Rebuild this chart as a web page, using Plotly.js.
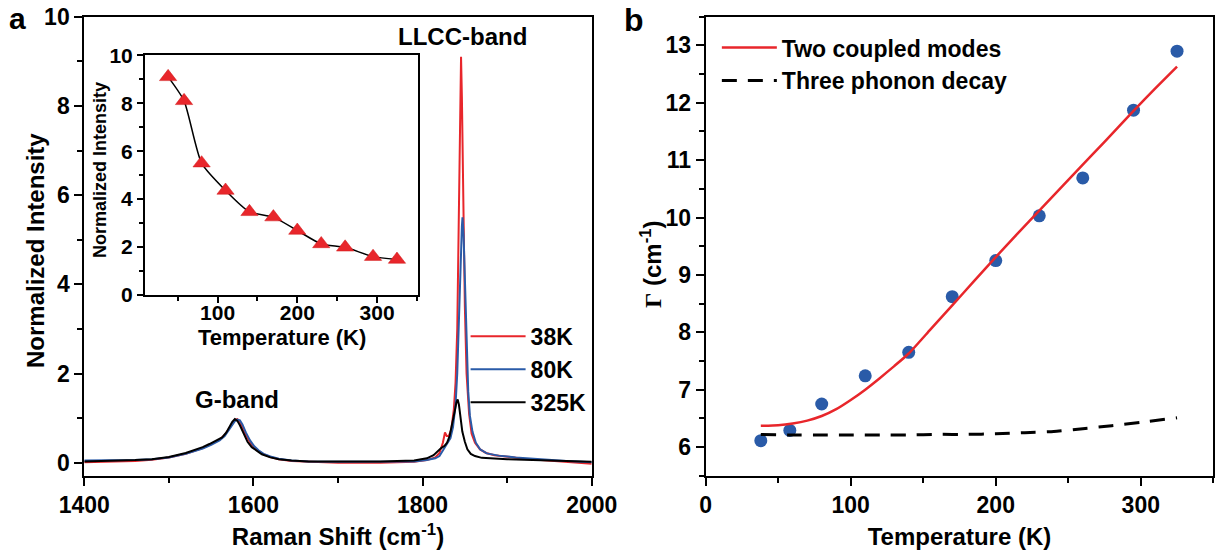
<!DOCTYPE html>
<html><head><meta charset="utf-8">
<script src="https://cdn.plot.ly/plotly-3.0.1.min.js"></script>
<style>html,body{margin:0;padding:0;background:#fff}#chart{width:1215px;height:550px}</style>
</head><body><div id="chart"></div>
<script>
// ---- Panel a: Raman spectra ----
const shift38 = [1400,1430,1460,1480,1500,1520,1540,1550,1560,1566,1571,1575,1578,1581,1584,1587,1591,1596,1601,1606,1612,1620,1630,1645,1665,1700,1750,1790,1805,1815,1820,1824,1826.5,1828.5,1831,1834,1837,1839,1841,1843,1844.5,1845.5,1846.5,1848,1850,1852,1855,1858,1862,1868,1875,1885,1900,1920,1940,1960,1980,2000];
const int38   = [0.01,0.02,0.04,0.07,0.12,0.2,0.33,0.42,0.52,0.62,0.76,0.88,0.96,0.98,0.92,0.8,0.62,0.46,0.34,0.26,0.19,0.13,0.08,0.04,0.02,0.0,0.0,0.02,0.06,0.12,0.22,0.45,0.68,0.6,0.6,0.75,1.2,1.8,3.0,5.4,8.0,9.1,8.2,6.0,3.5,2.0,1.1,0.65,0.45,0.3,0.22,0.17,0.13,0.09,0.06,0.03,0.0,-0.02];
const shift80 = [1400,1430,1460,1480,1500,1520,1540,1550,1560,1566,1571,1575,1578,1581,1584,1587,1591,1596,1601,1606,1612,1620,1630,1645,1665,1700,1750,1790,1805,1815,1820,1825,1829,1833,1836,1839,1841,1843,1845,1846.5,1847.2,1848.5,1850,1852,1854,1856,1859,1863,1868,1876,1890,1910,1930,1950,1970,2000];
const int80   = [0.05,0.05,0.06,0.08,0.12,0.2,0.32,0.4,0.5,0.6,0.73,0.85,0.93,0.97,0.95,0.86,0.68,0.5,0.37,0.28,0.2,0.14,0.09,0.05,0.03,0.02,0.02,0.03,0.06,0.1,0.15,0.3,0.45,0.55,0.8,1.3,2.0,3.0,4.4,5.3,5.5,5.1,4.0,2.6,1.6,1.05,0.7,0.45,0.3,0.21,0.16,0.12,0.09,0.06,0.04,0.01];
const shift325 = [1400,1430,1460,1480,1500,1520,1540,1548,1556,1563,1568,1572,1575,1578,1581,1584,1588,1593,1598,1604,1610,1620,1630,1645,1665,1700,1750,1790,1805,1813,1818,1822,1826,1829,1832,1835,1838,1840,1841.5,1843,1845,1847,1850,1853,1857,1862,1870,1885,1900,1930,1960,2000];
const int325   = [0.03,0.04,0.06,0.08,0.13,0.22,0.35,0.42,0.5,0.57,0.68,0.82,0.92,0.98,0.94,0.84,0.66,0.47,0.35,0.26,0.19,0.12,0.08,0.05,0.03,0.03,0.03,0.05,0.1,0.17,0.27,0.33,0.38,0.45,0.6,0.85,1.15,1.35,1.42,1.3,1.0,0.7,0.47,0.3,0.2,0.15,0.11,0.09,0.08,0.06,0.04,0.02];
const spectraNames = ['38K','80K','325K'];

// ---- Inset: LLCC intensity vs temperature ----
const insetT = [38,58,80,110,140,170,200,230,260,295,325];
const insetI = [9.1,8.1,5.5,4.36,3.47,3.25,2.69,2.13,1.99,1.6,1.48];

// ---- Panel b: linewidth vs temperature ----
const gammaT = [38,58,80,110,140,170,200,230,260,295,325];
const gammaW = [6.11,6.29,6.75,7.24,7.65,8.62,9.25,10.03,10.69,11.87,12.9];
const coupledT = [38,50,60,70,80,90,100,110,120,130,140,155,170,185,200,215,230,245,260,275,295,310,325];
const coupledW = [6.37,6.38,6.41,6.46,6.54,6.66,6.82,7.0,7.2,7.41,7.63,8.05,8.47,8.89,9.31,9.72,10.12,10.52,10.92,11.32,11.86,12.25,12.63];
const decayT = [38,60,80,100,120,140,160,180,200,220,240,260,280,300,325];
const decayW = [6.22,6.21,6.21,6.21,6.21,6.21,6.22,6.22,6.23,6.25,6.27,6.32,6.37,6.43,6.51];

// ---- Tick labels ----
const ramanTicks = [1400,1600,1800,2000];
const intensityTicks = [0,2,4,6,8,10];
const insetTempTicks = [100,200,300];
const insetIntTicks = [0,2,4,6,8,10];
const tempTicks = [0,100,200,300];
const gammaTicks = [6,7,8,9,10,11,12,13];
const boldText = (arr) => arr.map(v => '<b>' + v + '</b>');

const RED = '#e8262b', BLUE = '#2a5ba8', BLACK = '#000000';
const FAM = '"Liberation Sans", Arial, sans-serif';
const bf = (s) => ({family: FAM, size: s, color: '#000', weight: 700});
const W = 1215, H = 550;
const px = (v) => v / W, py = (v) => 1 - v / H;

const traces = [
  {x: shift38, y: int38, name: spectraNames[0], mode: 'lines', line: {color: RED, width: 2}, xaxis: 'x', yaxis: 'y', legend: 'legend'},
  {x: shift80, y: int80, name: spectraNames[1], mode: 'lines', line: {color: BLUE, width: 2}, xaxis: 'x', yaxis: 'y', legend: 'legend'},
  {x: shift325, y: int325, name: spectraNames[2], mode: 'lines', line: {color: BLACK, width: 2}, xaxis: 'x', yaxis: 'y', legend: 'legend'},
  {x: insetT, y: insetI, mode: 'lines+markers', showlegend: false, xaxis: 'x2', yaxis: 'y2',
   line: {color: BLACK, width: 1.5, shape: 'spline', smoothing: 0.6},
   marker: {symbol: 'triangle-up', size: 15, color: RED, line: {color: '#d01818', width: 0.5}}},
  {x: gammaT, y: gammaW, mode: 'markers', showlegend: false, xaxis: 'x4', yaxis: 'y4',
   marker: {symbol: 'circle', size: 13, color: BLUE}},
  {x: coupledT, y: coupledW, name: 'Two coupled modes', mode: 'lines', xaxis: 'x4', yaxis: 'y4', legend: 'legend2',
   line: {color: RED, width: 2.5, shape: 'spline', smoothing: 0.5}},
  {x: decayT, y: decayW, name: 'Three phonon decay', mode: 'lines', xaxis: 'x4', yaxis: 'y4', legend: 'legend2',
   line: {color: BLACK, width: 3, dash: '15px,11px', shape: 'spline', smoothing: 0.5}}
];

const baseAx = {showgrid: false, zeroline: false, showline: true, linecolor: '#000', linewidth: 2,
  ticks: 'outside', tickwidth: 2, ticklen: 8, tickcolor: '#000', tickmode: 'array'};

const domA = [0.06938, 0.48700], domB = [0.58082, 0.99860], domY = [0.13509, 0.96964];
const domIX = [0.11934, 0.34379], domIY = [0.46364, 0.89945];

const layout = {
  width: W, height: H,
  margin: {l: 0, r: 0, t: 0, b: 0},
  paper_bgcolor: '#fff', plot_bgcolor: '#fff',
  font: bf(22),
  xaxis: Object.assign({}, baseAx, {domain: domA, anchor: 'y', range: [1400, 2000], mirror: true,
    tickvals: ramanTicks, ticktext: boldText(ramanTicks),
    minor: {tickmode: 'linear', tick0: 1400, dtick: 100, ticks: 'outside', ticklen: 5, tickwidth: 2, tickcolor: '#000'},
    tickfont: bf(23), title: {text: 'Raman Shift (cm<sup>-1</sup>)', font: bf(24), standoff: 12}}),
  yaxis: Object.assign({}, baseAx, {domain: domY, anchor: 'x', range: [-0.29, 10], mirror: true,
    tickvals: intensityTicks, ticktext: boldText(intensityTicks),
    minor: {tickmode: 'linear', tick0: 0, dtick: 1, ticks: 'outside', ticklen: 5, tickwidth: 2, tickcolor: '#000'},
    tickfont: bf(23)}),
  xaxis2: Object.assign({}, baseAx, {domain: domIX, anchor: 'y2', range: [9, 351], mirror: true,
    tickvals: insetTempTicks, ticktext: boldText(insetTempTicks), ticklabelstandoff: -8,
    minor: {tickmode: 'linear', tick0: 0, dtick: 50, ticks: 'outside', ticklen: 4, tickwidth: 2, tickcolor: '#000'}, ticklen: 6,
    tickfont: bf(21)}),
  yaxis2: Object.assign({}, baseAx, {domain: domIY, anchor: 'x2', range: [0, 10], mirror: true,
    tickvals: insetIntTicks, ticktext: boldText(insetIntTicks),
    minor: {tickmode: 'linear', tick0: 0, dtick: 1, ticks: 'outside', ticklen: 4, tickwidth: 2, tickcolor: '#000'}, ticklen: 6,
    tickfont: bf(21)}),
  xaxis3: {overlaying: 'x2', anchor: 'y2', side: 'top', range: [9, 351], tick0: 0, dtick: 50, ticks: 'inside', ticklen: 4, tickwidth: 2,
    showticklabels: false, showline: false, showgrid: false, zeroline: false},
  yaxis3: {overlaying: 'y2', anchor: 'x2', side: 'right', range: [0, 10], tick0: 0, dtick: 1, ticks: 'inside', ticklen: 4, tickwidth: 2,
    showticklabels: false, showline: false, showgrid: false, zeroline: false},
  xaxis4: Object.assign({}, baseAx, {domain: domB, anchor: 'y4', range: [0, 350], mirror: true,
    tickvals: tempTicks, ticktext: boldText(tempTicks),
    minor: {tickmode: 'linear', tick0: 0, dtick: 50, ticks: 'outside', ticklen: 5, tickwidth: 2, tickcolor: '#000'},
    tickfont: bf(23), title: {text: 'Temperature (K)', font: bf(24), standoff: 12}}),
  yaxis4: Object.assign({}, baseAx, {domain: domY, anchor: 'x4', range: [5.5, 13.5], mirror: true,
    tickvals: gammaTicks, ticktext: boldText(gammaTicks),
    minor: {tickmode: 'linear', tick0: 0, dtick: 0.5, ticks: 'outside', ticklen: 5, tickwidth: 2, tickcolor: '#000'},
    tickfont: bf(23)}),
  xaxis5: {overlaying: 'x4', anchor: 'y4', side: 'top', range: [0, 350], tick0: 0, dtick: 100, ticks: 'inside', ticklen: 7, tickwidth: 2,
    minor: {dtick: 50, ticks: 'inside', ticklen: 4, tickwidth: 2},
    showticklabels: false, showline: false, showgrid: false, zeroline: false},
  yaxis5: {overlaying: 'y4', anchor: 'x4', side: 'right', range: [5.5, 13.5], tick0: 0, dtick: 1, ticks: 'inside', ticklen: 7, tickwidth: 2,
    minor: {dtick: 0.5, ticks: 'inside', ticklen: 7, tickwidth: 2},
    showticklabels: false, showline: false, showgrid: false, zeroline: false},
  legend: {x: 0.3832, y: 0.4275, xanchor: 'left', yanchor: 'top', bgcolor: 'rgba(0,0,0,0)', font: bf(23),
    itemwidth: 55, tracegroupgap: 0},
  legend2: {x: 0.59, y: 0.9525, xanchor: 'left', yanchor: 'top', bgcolor: 'rgba(0,0,0,0)', font: bf(23),
    itemwidth: 55, tracegroupgap: 0},
  annotations: [
    {text: 'a', xref: 'paper', yref: 'paper', x: px(17.5), y: 1, xanchor: 'center', yanchor: 'top', showarrow: false, font: bf(30)},
    {text: 'b', xref: 'paper', yref: 'paper', x: px(634), y: 1, xanchor: 'center', yanchor: 'top', showarrow: false, font: bf(32)},
    {text: 'LLCC-band', xref: 'x', yref: 'y', x: 1847, y: 9.55, xanchor: 'center', yanchor: 'middle', showarrow: false, font: bf(24)},
    {text: 'G-band', xref: 'x', yref: 'y', x: 1581, y: 1.41, xanchor: 'center', yanchor: 'middle', showarrow: false, font: bf(24)},
    // axis titles placed to match the reference
    {text: 'Normalized Intensity', xref: 'paper', yref: 'paper', x: px(36), y: py(251), textangle: -90,
     xanchor: 'center', yanchor: 'middle', showarrow: false, font: bf(24)},
    {text: 'Normalized Intensity', xref: 'paper', yref: 'paper', x: px(100), y: py(170), textangle: -90,
     xanchor: 'center', yanchor: 'middle', showarrow: false, font: bf(18)},
    {text: 'Temperature (K)', xref: 'paper', yref: 'paper', x: px(281.5), y: py(337),
     xanchor: 'center', yanchor: 'middle', showarrow: false, font: bf(22)},
    {text: '<span style="font-family:\'Liberation Serif\',serif">Γ</span> (cm<sup>-1</sup>)', xref: 'paper', yref: 'paper',
     x: px(651), y: py(264), textangle: -90, xanchor: 'center', yanchor: 'middle', showarrow: false, font: bf(24)}
  ]
};

Plotly.newPlot('chart', traces, layout, {displayModeBar: false, staticPlot: true});
</script></body></html>
